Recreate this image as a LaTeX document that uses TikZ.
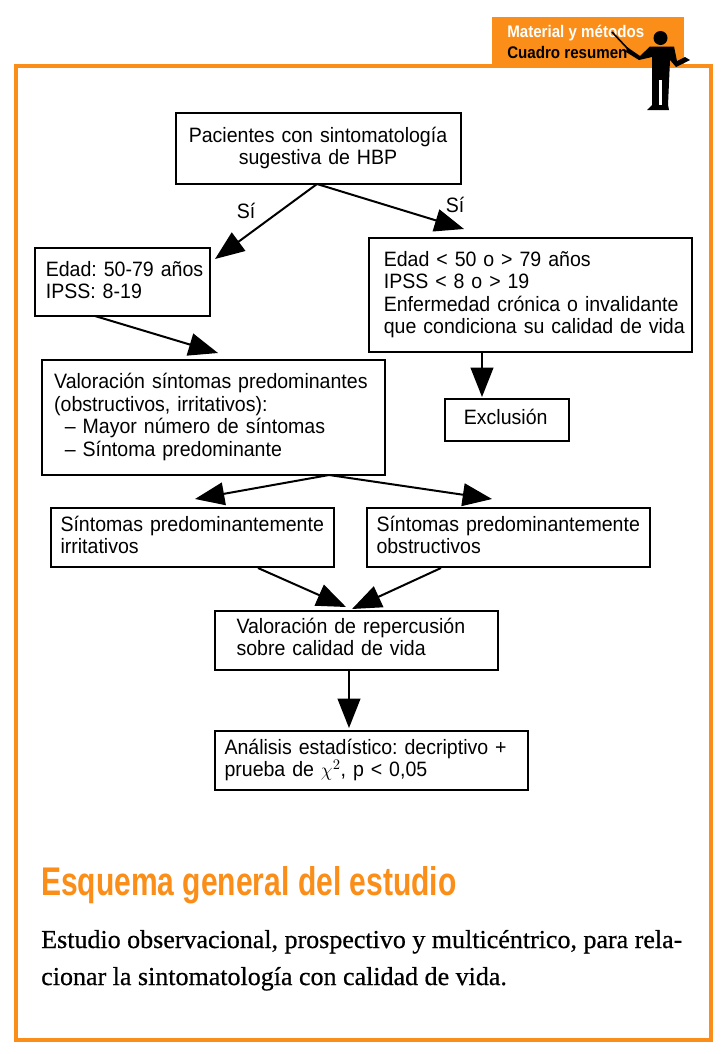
\documentclass[tikz,border=0pt]{standalone}
\usepackage{fontspec}
\usetikzlibrary{arrows.meta}
\setmainfont{Liberation Sans}[FakeStretch=0.94,WordSpace=0.7]
\newfontfamily\titlefont{Liberation Sans Bold}[FakeStretch=0.75]
\newfontfamily\tabfont{Liberation Sans Bold}[FakeStretch=0.9]
\newfontfamily\bodyfont{Liberation Serif}[FakeBold=0.6,FakeStretch=1.005]
\definecolor{orangeM}{RGB}{250,142,24}
\newcommand{\upby}[1]{\\[\dimexpr#1-16.9pt\relax]\mbox{}}
\tikzset{
  x=0.75pt,y=-0.75pt,
  flowbox/.style={draw=black,line width=1.5pt,outer sep=0pt,anchor=north west,align=left,inner ysep=0pt,font=\frenchspacing\fontsize{15.6pt}{16.9pt}\selectfont},
  flowarrow/.style={draw=black,line width=1.5pt,-{Triangle[length=22pt,width=17pt,inset=0pt]}},
  silabel/.style={font=\fontsize{15.6pt}{17pt}\selectfont,inner sep=0pt}
}
\begin{document}
\begin{tikzpicture}
\useasboundingbox (0,0) rectangle (721,1054);
\fill[white] (0,0) rectangle (721,1054);
% tab and frame
\fill[orangeM] (492,17) rectangle (684,68);
\draw[orangeM,line width=3pt] (16,66) rectangle (711,1040);
\node[anchor=base west,inner sep=0pt,text=white,font=\tabfont\fontsize{12.6pt}{13pt}\selectfont] (tabA) at (507,37) {Material y métodos};
\node[anchor=base west,inner sep=0pt,text=black,font=\tabfont\fontsize{12.6pt}{13pt}\selectfont] (tabB) at (507,58) {Cuadro resumen};
% presenter figure
\fill[black] (660.5,38) circle (7);
\fill[black] (627,47) -- (640,56) -- (650,46.5) -- (674,46.5) -- (677,61) -- (685,57) -- (690,60) -- (676,67) -- (670,60) -- (668,105) -- (669,110) -- (647,110) -- (652,105) -- (652,68) -- (652,57) -- (639,60) -- (626,52) -- cycle;
\fill[white] (659,80) rectangle (662,105);
\draw[black,line width=1.2pt] (612,32) -- (628,49);
% boxes
\node[flowbox,minimum width=285*0.75pt,minimum height=71*0.75pt,text width=285*0.75pt-16pt,inner xsep=8pt,align=center] (a) at (175.5,112.5) {Pacientes con sintomatología\\sugestiva de HBP};
\node[flowbox,minimum width=175*0.75pt,minimum height=68*0.75pt,text width=175*0.75pt-17pt,inner xsep=8.5pt] (b) at (34.5,247.5) {\mbox{Edad: 50-79 años}\\IPSS: 8-19\upby{2pt}};
\node[flowbox,minimum width=323*0.75pt,minimum height=114*0.75pt,text width=323*0.75pt-23pt,inner xsep=11.5pt] (c) at (368.5,237.5) {\mbox{Edad < 50 o > 79 años}\\\mbox{IPSS < 8 o > 19}\\\mbox{Enfermedad crónica o invalidante}\\\mbox{que condiciona su calidad de vida}};
\node[flowbox,minimum width=124*0.75pt,minimum height=42*0.75pt,text width=124*0.75pt-29pt,inner xsep=14.5pt] (d) at (444.5,398.5) {Exclusión\upby{4.5pt}};
\node[flowbox,minimum width=343*0.75pt,minimum height=115*0.75pt,text width=343*0.75pt-19pt,inner xsep=9.5pt] (e) at (41.5,359.5) {\mbox{Valoración síntomas predominantes}\\(obstructivos, irritativos):\\\hspace*{8pt}– Mayor número de síntomas\\\hspace*{8pt}– Síntoma predominante};
\node[flowbox,minimum width=283*0.75pt,minimum height=59*0.75pt,text width=283*0.75pt-15pt,inner xsep=7.5pt] (f) at (50.5,507.5) {\mbox{Síntomas predominantemente}\\irritativos\upby{3pt}};
\node[flowbox,minimum width=283*0.75pt,minimum height=59*0.75pt,text width=283*0.75pt-15pt,inner xsep=7.5pt] (g) at (366.5,507.5) {\mbox{Síntomas predominantemente}\\obstructivos\upby{3pt}};
\node[flowbox,minimum width=283*0.75pt,minimum height=59*0.75pt,text width=283*0.75pt-33pt,inner xsep=16.5pt] (h) at (214.5,610.5) {Valoración de repercusión\\sobre calidad de vida\upby{4.5pt}};
\node[flowbox,minimum width=313*0.75pt,minimum height=59*0.75pt,text width=313*0.75pt-15pt,inner xsep=7.5pt] (i) at (214.5,730.5) {\mbox{Análisis estadístico: decriptivo +}\\prueba de $\chi^2$, p < 0,05};
% labels
\node[silabel] (si1) at (246,211) {Sí};
\node[silabel] (si2) at (455,205) {Sí};
% connector ends
\coordinate (aout) at (317,184);
\coordinate (t1) at (215,259);
\coordinate (t2) at (464,229);
\coordinate (bout) at (95,316);
\coordinate (t3) at (218,353);
\coordinate (cout) at (482,352);
\coordinate (t4) at (482,397);
\coordinate (eout) at (329,475);
\coordinate (t5) at (195,499);
\coordinate (t6) at (492,499);
\coordinate (fout) at (258,568);
\coordinate (t7) at (346,607);
\coordinate (gout) at (441,568);
\coordinate (t8) at (352,609);
\coordinate (hout) at (349,670);
\coordinate (t9) at (349,728);
\draw[flowarrow] (aout) -- (t1);
\draw[flowarrow] (aout) -- (t2);
\draw[flowarrow] (bout) -- (t3);
\draw[flowarrow] (cout) -- (t4);
\draw[flowarrow] (eout) -- (t5);
\draw[flowarrow] (eout) -- (t6);
\draw[flowarrow] (fout) -- (t7);
\draw[flowarrow] (gout) -- (t8);
\draw[flowarrow] (hout) -- (t9);
% caption
\node[anchor=base west,inner sep=0pt,text=orangeM,font=\titlefont\fontsize{30pt}{34pt}\selectfont] (title) at (41,895) {Esquema general del estudio};
\node[anchor=base west,inner sep=0pt,font=\bodyfont\fontsize{19.4pt}{24pt}\selectfont] (body1) at (41,948) {Estudio observacional, prospectivo y multicéntrico, para rela-};
\node[anchor=base west,inner sep=0pt,font=\bodyfont\fontsize{19.4pt}{24pt}\selectfont] (body2) at (41,985) {cionar la sintomatología con calidad de vida.};
\end{tikzpicture}
\end{document}
